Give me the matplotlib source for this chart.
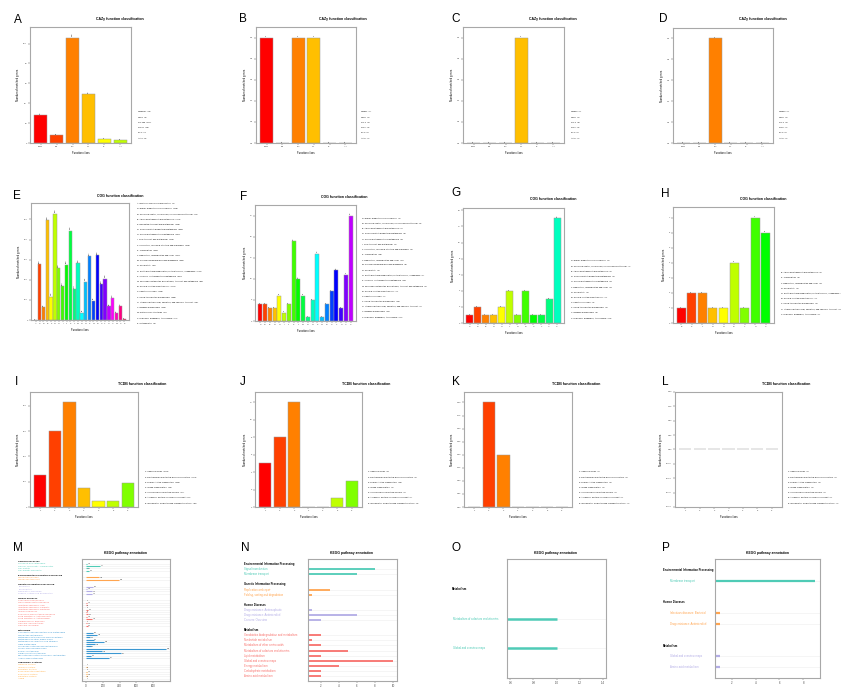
import matplotlib
matplotlib.use("Agg")
import matplotlib.pyplot as plt
import matplotlib.transforms as mtransforms
import numpy as np
from matplotlib.colors import hsv_to_rgb

plt.rcParams['font.family'] = ['Liberation Sans', 'DejaVu Sans']

# ---- CAZy ----
cazy_classes = ['CBM', 'CE', 'GH', 'GT', 'PL', 'AA']
cazy_a = [28, 8, 106, 49, 4, 3]
cazy_b = [1, 0, 1, 1, 0, 0]
cazy_c = [0, 0, 0, 1, 0, 0]
cazy_d = [0, 0, 1, 0, 0, 0]

# ---- COG ----
cog_letters = ['A', 'C', 'D', 'E', 'F', 'G', 'H', 'I', 'J', 'K', 'L', 'M', 'N',
               'O', 'P', 'Q', 'R', 'S', 'T', 'U', 'V', 'W', 'X', 'Z']
cog_desc = ['RNA processing and modification',
            'Energy production and conversion',
            'Cell cycle control, cell division, chromosome partitioning',
            'Amino acid transport and metabolism',
            'Nucleotide transport and metabolism',
            'Carbohydrate transport and metabolism',
            'Coenzyme transport and metabolism',
            'Lipid transport and metabolism',
            'Translation, ribosomal structure and biogenesis',
            'Transcription',
            'Replication, recombination and repair',
            'Cell wall/membrane/envelope biogenesis',
            'Cell motility',
            'Posttranslational modification, protein turnover, chaperones',
            'Inorganic ion transport and metabolism',
            'Secondary metabolites biosynthesis, transport and catabolism',
            'General function prediction only',
            'Function unknown',
            'Signal transduction mechanisms',
            'Intracellular trafficking, secretion, and vesicular transport',
            'Defense mechanisms',
            'Extracellular structures',
            'Mobilome: prophages, transposons',
            'Cytoskeleton']
cog_e_letters = cog_letters
cog_e_counts = [1, 279, 64, 498, 116, 529, 259, 170, 276, 445, 154, 282, 37,
                191, 317, 96, 322, 178, 206, 68, 110, 33, 70, 3]
cog_f_letters = ['C', 'D', 'E', 'G', 'H', 'I', 'J', 'K', 'L', 'M', 'N', 'O',
                 'P', 'Q', 'R', 'S', 'T', 'U', 'V', 'X']
cog_f_counts = [4, 4, 3, 3, 6, 2, 4, 19, 10, 6, 1, 5, 16, 1, 4, 7, 12, 3, 11, 25]
cog_g_letters = ['C', 'D', 'E', 'G', 'H', 'L', 'N', 'R', 'S', 'T', 'V', 'X']
cog_g_counts = [1, 2, 1, 1, 2, 4, 1, 4, 1, 1, 3, 13]
cog_h_letters = ['E', 'K', 'L', 'N', 'O', 'R', 'T', 'U', 'X']
cog_h_counts = [1, 2, 2, 1, 1, 4, 1, 7, 6]

# ---- TCDB ----
tcdb_ids = ['1', '2', '3', '4', '5', '8', '9']
tcdb_desc = ['Channels/Pores',
             'Electrochemical Potential-driven Transporters',
             'Primary Active Transporters',
             'Group Translocators',
             'Transmembrane Electron Carriers',
             'Accessory Factors Involved in Transport',
             'Incompletely Characterized Transport Systems']
tcdb_i = [128, 301, 413, 76, 22, 25, 96]
tcdb_j = [5, 8, 12, 0, 0, 1, 3]
tcdb_k = [0, 2, 1, 0, 0, 0, 0]
tcdb_l = [0, 0, 0, 0, 0, 0, 0]

# ---- KEGG ----
m_groups = ['Cellular Processes', 'Environmental Information Processing',
            'Genetic Information Processing', 'Human Diseases', 'Metabolism',
            'Organismal Systems']
m_paths = [
    ['Transport and catabolism', 'Cellular community - prokaryotes',
     'Cell motility', 'Cell growth and death'],
    ['Signal transduction', 'Membrane transport'],
    ['Translation', 'Transcription', 'Replication and repair',
     'Folding, sorting and degradation'],
    ['Substance dependence', 'Neurodegenerative diseases',
     'Infectious diseases: Viral', 'Infectious diseases: Parasitic',
     'Infectious diseases: Bacterial', 'Immune diseases',
     'Endocrine and metabolic diseases', 'Drug resistance: Antineoplastic',
     'Drug resistance: Antimicrobial', 'Cardiovascular diseases',
     'Cancers: Specific types', 'Cancers: Overview'],
    ['Xenobiotics biodegradation and metabolism', 'Nucleotide metabolism',
     'Metabolism of terpenoids and polyketides',
     'Metabolism of other amino acids', 'Metabolism of cofactors and vitamins',
     'Lipid metabolism', 'Glycan biosynthesis and metabolism',
     'Global and overview maps', 'Energy metabolism',
     'Carbohydrate metabolism', 'Biosynthesis of other secondary metabolites',
     'Amino acid metabolism'],
    ['Nervous system', 'Immune system', 'Excretory system',
     'Environmental adaptation', 'Endocrine system', 'Digestive system',
     'Aging'],
]
m_values = [
    [18, 170, 20, 35],
    [155, 395],
    [82, 18, 70, 70],
    [4, 12, 8, 6, 30, 8, 25, 18, 78, 4, 15, 20],
    [80, 135, 50, 90, 220, 105, 55, 950, 190, 415, 60, 275],
    [4, 8, 6, 12, 18, 8, 1],
]
m_ticks = [0, 200, 400, 600, 800]

n_groups = ['Environmental Information Processing',
            'Genetic Information Processing', 'Human Diseases', 'Metabolism']
n_paths = [
    ['Signal transduction', 'Membrane transport'],
    ['Replication and repair', 'Folding, sorting and degradation'],
    ['Drug resistance: Antineoplastic', 'Drug resistance: Antimicrobial',
     'Cancers: Overview'],
    ['Xenobiotics biodegradation and metabolism', 'Nucleotide metabolism',
     'Metabolism of other amino acids', 'Metabolism of cofactors and vitamins',
     'Lipid metabolism', 'Global and overview maps', 'Energy metabolism',
     'Carbohydrate metabolism', 'Amino acid metabolism'],
]
n_values = [[8, 6], [3, 1], [1, 6, 2], [2, 1, 2, 5, 2, 10, 4, 2, 2]]
n_ticks = [2, 4, 6, 8, 10]

o_groups = ['Metabolism']
o_paths = [['Metabolism of cofactors and vitamins', 'Global and overview maps']]
o_values = [[1, 1]]
o_ticks = [0.6, 0.8, 1.0, 1.2, 1.4]

p_groups = ['Environmental Information Processing', 'Human Diseases', 'Metabolism']
p_paths = [['Membrane transport'],
           ['Infectious diseases: Bacterial', 'Drug resistance: Antimicrobial'],
           ['Global and overview maps', 'Amino acid metabolism']]
p_values = [[9], [1, 1], [1, 1]]
p_ticks = [2, 4, 6, 8]

kegg_colors = ['#4fcbb6', '#ffa550', '#b3ade6', '#f8716c', '#3b97d1', '#ffad45']

W, H = 841, 689
fig = plt.figure(figsize=(W / 100, H / 100), dpi=100)
fig.patch.set_facecolor('white')


def px_axes(x0, y0, x1, y1):
    return fig.add_axes([x0 / W, 1 - y1 / H, (x1 - x0) / W, (y1 - y0) / H])


def fig_text(x, y, s, **kw):
    fig.text(x / W, 1 - y / H, s, **kw)


def rainbow(n):
    # 24 step hue wheel, first colours taken in order
    return [hsv_to_rgb(((i % 24) / 24.0, 1, 1)) for i in range(n)]


def style_frame(ax):
    for sp in ax.spines.values():
        sp.set_color('#a8a8a8')
        sp.set_linewidth(0.8)
    ax.tick_params(labelsize=1.6, length=1.2, width=0.3, colors='#444444', pad=1)


def bar_panel(box, letter, letter_pos, title, title_pos, labels, counts,
              legend, legend_x, legend_bottom, values=True):
    ax = px_axes(*box)
    n = len(counts)
    pos = np.arange(n)
    ax.bar(pos, counts, width=0.84, color=rainbow(n), edgecolor='#9a9a9a',
           linewidth=0.35)
    top = max(counts)
    if top > 0:
        ax.set_ylim(0, top * 1.1)
    else:
        ax.set_ylim(-1, 1)
    pad = 0.03 * n + 0.5
    ax.set_xlim(-pad, n - 1 + pad)
    ax.set_xticks(pos)
    ax.set_xticklabels(labels)
    if values:
        for i, c in enumerate(counts):
            ax.text(i, c + top * 0.012, str(c), rotation=90, ha='center',
                    va='bottom', fontsize=1.5,
                    bbox=dict(fc='white', ec='none', pad=0.2))
    ax.set_ylabel('Number of matched genes', fontsize=2, labelpad=2)
    ax.set_xlabel('Function class', fontsize=2, labelpad=3)
    style_frame(ax)
    fig_text(*letter_pos, letter, fontsize=8.5, ha='left', va='center')
    fig_text(*title_pos, title, fontsize=2.5, fontweight='bold',
             ha='center', va='center')
    y = legend_bottom - (len(legend) - 1) * 5.2
    for line in legend:
        fig_text(legend_x, y, line, fontsize=1.5, ha='left', va='center')
        y += 5.2
    return ax


def kegg_panel(box, letter, letter_pos, title_pos, groups, paths, values,
               ticks, label_x, indent, lw, fs=2, show_values=False):
    ax = px_axes(*box)
    heads, items = [], []
    r = 0
    for gi, g in enumerate(groups):
        if gi > 0:
            r += 1
        heads.append((r, g))
        r += 1
        for p, v in zip(paths[gi], values[gi]):
            items.append((r, p, v, kegg_colors[gi]))
            r += 1
    allv = [v for vs in values for v in vs]
    lo, hi = min(allv), max(allv)
    xpad = 0.05 * (hi - lo) if hi > lo else 0.43
    ax.set_xlim(lo - xpad, hi + xpad)
    ax.set_ylim(r, -1)
    trans = mtransforms.blended_transform_factory(fig.transFigure, ax.transData)
    for row, g in heads:
        ax.text(label_x / W, row, g, transform=trans, fontsize=fs,
                fontweight='bold', ha='left', va='center', clip_on=False)
    for row, p, v, c in items:
        ax.axhline(row, color='#eeeeee', lw=0.4, zorder=0)
        ax.hlines(row, 0, v, color=c, lw=lw, zorder=2)
        ax.text((label_x + indent) / W, row, p, transform=trans, fontsize=fs,
                color=c, ha='left', va='center', clip_on=False)
        if show_values:
            ax.text(v + (hi - lo) * 0.01, row, str(v), fontsize=1.2,
                    ha='left', va='center', color='#333333')
    ax.set_yticks([])
    ax.set_xticks(ticks)
    style_frame(ax)
    ax.tick_params(labelsize=2)
    fig_text(*letter_pos, letter, fontsize=8.5, ha='left', va='center')
    fig_text(*title_pos, 'KEGG pathway annotation', fontsize=2.4,
             fontweight='bold', ha='center', va='center')
    return ax


# row 1: CAZy
cazy_title = 'CAZy function classification'
for letter, counts, box, lpos, tpos, lx in [
        ('A', cazy_a, (30, 27, 131, 143), (14, 20), (120, 19), 138),
        ('B', cazy_b, (256, 27, 356, 143), (239, 19), (343, 19), 361),
        ('C', cazy_c, (463, 27, 564, 143), (451, 19), (553, 19), 571),
        ('D', cazy_d, (673, 28, 773, 143), (659, 19), (763, 19), 779)]:
    legend = ['%s:%d  (%d)' % (c, v, v) for c, v in zip(cazy_classes, counts)]
    bar_panel(box, letter, lpos, cazy_title, tpos, cazy_classes, counts,
              legend, lx, 138)

# row 2: COG
cog_title = 'COG function classification'
for letter, lets, counts, box, lpos, tpos, lx, lb in [
        ('E', cog_e_letters, cog_e_counts, (31, 203, 129, 320), (13, 196), (120, 196), 137, 323),
        ('F', cog_f_letters, cog_f_counts, (255, 205, 356, 321), (240, 197), (344, 197), 362, 317),
        ('G', cog_g_letters, cog_g_counts, (463, 208, 564, 323), (451, 193), (553, 199), 571, 318),
        ('H', cog_h_letters, cog_h_counts, (673, 207, 774, 323), (661, 194), (763, 199), 781, 314)]:
    legend = ['%s: %s  (%d)' % (l, cog_desc[cog_letters.index(l)], v)
              for l, v in zip(lets, counts)]
    bar_panel(box, letter, lpos, cog_title, tpos, lets, counts, legend, lx, lb)

# row 3: TCDB
tcdb_title = 'TCDB function classification'
for letter, counts, box, lpos, tpos, lx in [
        ('I', tcdb_i, (30, 392, 138, 507), (15, 382), (142, 384), 145),
        ('J', tcdb_j, (255, 392, 362, 507), (240, 382), (366, 384), 368),
        ('K', tcdb_k, (464, 392, 572, 507), (452, 382), (576, 384), 579),
        ('L', tcdb_l, (675, 392, 782, 507), (662, 382), (786, 384), 788)]:
    legend = ['%s: %s  (%d)' % (t, d, v) for t, d, v in zip(tcdb_ids, tcdb_desc, counts)]
    bar_panel(box, letter, lpos, tcdb_title, tpos, tcdb_ids, counts, legend,
              lx, 503, values=False)

# row 4: KEGG
kegg_panel((82, 559, 170, 681), 'M', (13, 548), (125, 553), m_groups, m_paths,
           m_values, m_ticks, 18, 0.5, 0.8, fs=1.7, show_values=True)
kegg_panel((308, 559, 397, 681), 'N', (241, 548), (352, 553), n_groups, n_paths,
           n_values, n_ticks, 244, 0.5, 1.3)
kegg_panel((507, 559, 606, 678), 'O', (452, 548), (556, 553), o_groups, o_paths,
           o_values, o_ticks, 452, 1, 1.8)
kegg_panel((715, 559, 820, 678), 'P', (662, 548), (767, 553), p_groups, p_paths,
           p_values, p_ticks, 663, 7, 1.6)

fig.savefig('out.png', dpi=100)
